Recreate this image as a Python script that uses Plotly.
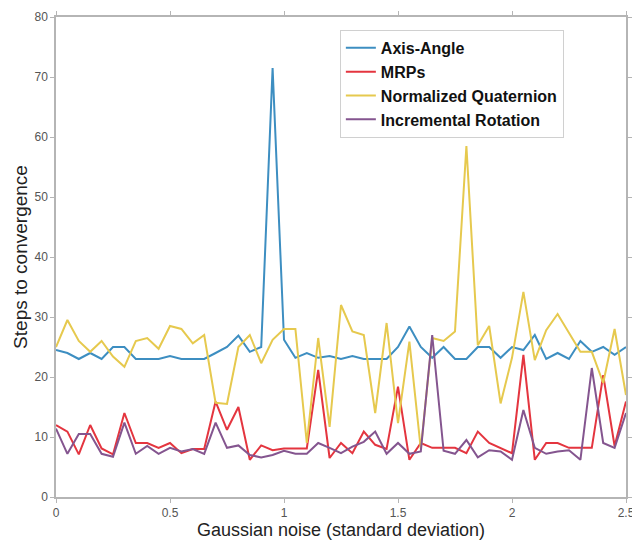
import plotly.graph_objects as go

x_vals = [round(i * 0.05, 2) for i in range(51)]

axis_angle = [24.5, 24, 23, 24, 23, 25, 25, 23, 23, 23, 23.5, 23, 23, 23, 24, 25, 26.9, 24.2, 25, 71.5,
              26.2, 23.2, 24, 23.2, 23.5, 23, 23.5, 23, 23, 23, 25, 28.4, 25, 23.2, 25, 23, 23, 25, 25, 23.2,
              25, 24.5, 27, 23, 24, 23, 26, 24.2, 25, 23.7, 25]
mrps = [12, 10.9, 7.1, 12, 8.1, 7.1, 14, 9, 9, 8.2, 9, 7.3, 8, 8, 15.9, 11.2, 15, 6.2, 8.6, 7.8,
        8.1, 8.1, 8.1, 21.2, 6.5, 9, 7.3, 10.9, 8.7, 8, 18.4, 6.2, 9, 8.2, 8.2, 8.2, 7.3, 10.9, 9, 8.2,
        7.3, 23.7, 6.2, 9, 9, 8.2, 8.2, 8.2, 20.3, 8.5, 15.9]
norm_quat = [25, 29.5, 26, 24.2, 26, 23.4, 21.7, 26, 26.5, 24.7, 28.5, 28, 25.6, 27, 15.7, 15.5, 25, 27, 22.3, 26.2,
             28, 28, 9, 26.5, 11.7, 32, 27.6, 27, 14, 29, 12.3, 25.9, 8, 26.5, 26, 27.6, 58.5, 25.3, 28.5, 15.6,
             23.2, 34.2, 22.8, 27.8, 30.5, 27.3, 24.2, 24.2, 19, 28, 17]
incr_rot = [11.4, 7.2, 10.5, 10.5, 7.2, 6.7, 12.4, 7.2, 8.5, 7.2, 8.2, 7.6, 8, 7.2, 12.4, 8.2, 8.6, 7, 6.6, 7,
            7.7, 7.2, 7.2, 9, 8.2, 7.3, 8.4, 9.2, 10.9, 7.2, 9, 7.2, 7.6, 27, 7.7, 7.2, 9.5, 6.6, 7.8, 7.6,
            6.2, 14.5, 8.2, 7.2, 7.6, 7.8, 6.2, 21.5, 9, 8.2, 14]

series = [
    ("Axis-Angle", axis_angle, "#3d8ec1"),
    ("MRPs", mrps, "#e4353f"),
    ("Normalized Quaternion", norm_quat, "#e6c94e"),
    ("Incremental Rotation", incr_rot, "#84558f"),
]

fig = go.Figure()
for name, ys, col in series:
    fig.add_trace(go.Scatter(x=x_vals, y=ys, mode="lines", name=name,
                             line=dict(color=col, width=2)))

axis_common = dict(showgrid=False, zeroline=False, showline=True, linecolor="#b5b5b5", linewidth=1.5,
                   mirror="ticks", ticks="outside", ticklen=4, tickcolor="#b5b5b5", automargin=False,
                   tickfont=dict(family="Liberation Sans, Arial", size=12, color="#555555"))

# The page body adds an 8px margin, so the figure is sized to fit the 640x543 window.
fig.update_layout(
    width=632, height=535,
    margin=dict(l=48, r=14, t=9, b=46),
    paper_bgcolor="white", plot_bgcolor="white",
    font=dict(family="Liberation Sans, Arial", color="#222222"),
    xaxis=dict(range=[0, 2.5], tickvals=[0, 0.5, 1, 1.5, 2, 2.5], ticktext=["0", "0.5", "1", "1.5", "2", "2.5"],
               title=dict(text="Gaussian noise (standard deviation)", font=dict(size=18, color="#222222"), standoff=4),
               **axis_common),
    yaxis=dict(range=[0, 80], tickvals=list(range(0, 81, 10)),
               title=dict(text="Steps to convergence", font=dict(size=19, color="#222222"), standoff=2),
               **axis_common),
    legend=dict(x=0.498, y=0.973, xanchor="left", yanchor="top",
                bgcolor="white", bordercolor="#d0d0d0", borderwidth=1,
                font=dict(family="Liberation Sans, Arial", size=16, color="#111111", weight="bold"),
                tracegroupgap=0, itemwidth=30),
    showlegend=True,
)

fig.write_html("out.html")
